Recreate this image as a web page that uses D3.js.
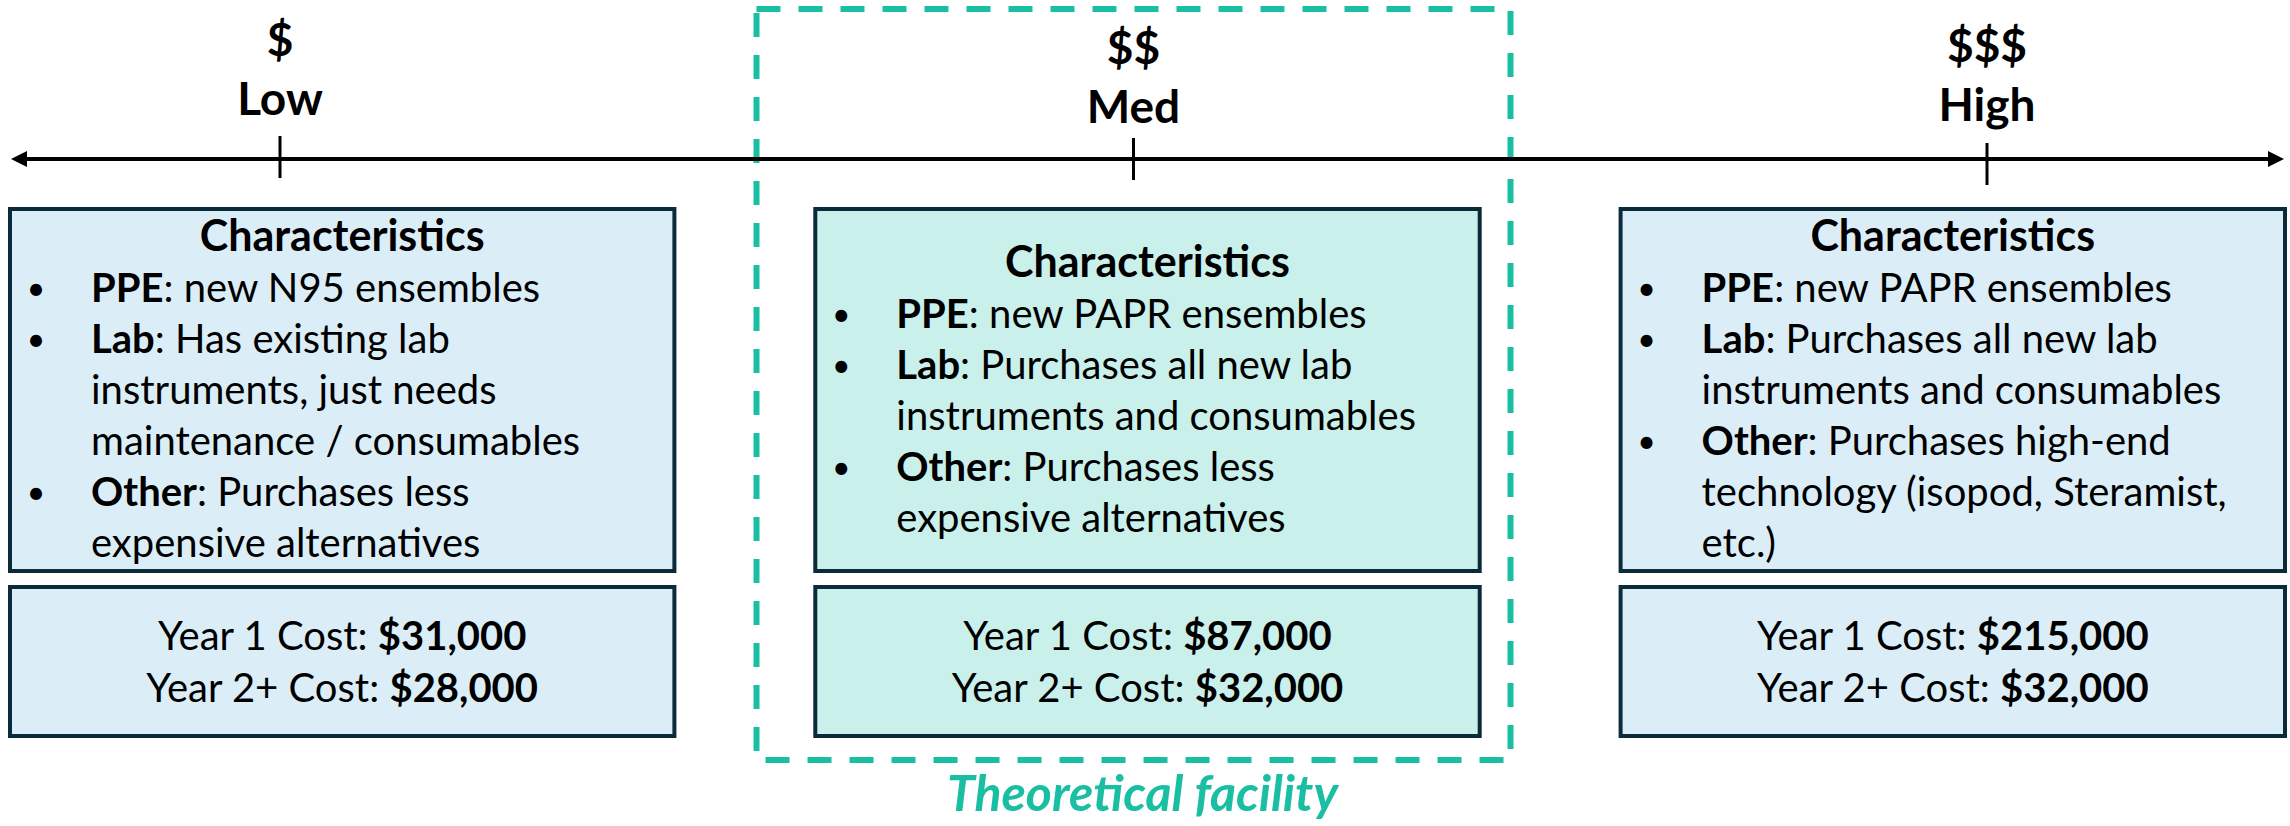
<!DOCTYPE html>
<html>
<head>
<meta charset="utf-8">
<script src="https://cdn.jsdelivr.net/npm/d3@7"></script>
<style>
  html, body { margin: 0; padding: 0; background: #ffffff; }
  svg { display: block; font-family: "Lato", "Noto Sans", sans-serif; }
</style>
</head>
<body>
<div id="chart"></div>
<script>
// ---------------- DATA ----------------
const tiers = ["Low", "Med", "High"];
const tierSymbols = ["$", "$$", "$$$"];
const bulletKeys = ["PPE", "Lab", "Other"];
const ppeText = ["new N95 ensembles", "new PAPR ensembles", "new PAPR ensembles"];
const labText = [
  "Has existing lab\ninstruments, just needs\nmaintenance / consumables",
  "Purchases all new lab\ninstruments and consumables",
  "Purchases all new lab\ninstruments and consumables"
];
const otherText = [
  "Purchases less\nexpensive alternatives",
  "Purchases less\nexpensive alternatives",
  "Purchases high-end\ntechnology (isopod, Steramist,\netc.)"
];
const year1Cost = [31000, 87000, 215000];
const year2Cost = [28000, 32000, 32000];
const highlightTier = "Med";
const highlightLabel = "Theoretical facility";
const headingText = "Characteristics";

// ---------------- LAYOUT / STYLE ----------------
const W = 2290, H = 826;
const FONT = 40;
const LINE_H = 51;
const colors = {
  border: "#0b2a3a",
  fill: "#dbeef8",
  fillHi: "#c9f0eb",
  teal: "#1abfa3",
  ink: "#000000"
};
const labelDy = { Low: -8, Med: 0, High: -2 };
const tickDy = { Low: -2, Med: 0, High: 5 };

const svg = d3.select("#chart").append("svg")
  .attr("width", W).attr("height", H);

const xTick = d3.scalePoint().domain(tiers).range([280, 1987]);
const xBox = d3.scaleBand().domain(tiers).range([8, 2287]).paddingInner(0.17);

const fmt = d3.format("$,");

const rows = tiers.map((t, i) => ({
  tier: t,
  symbol: tierSymbols[i],
  bullets: [
    { key: bulletKeys[0], lines: ppeText[i].split("\n") },
    { key: bulletKeys[1], lines: labText[i].split("\n") },
    { key: bulletKeys[2], lines: otherText[i].split("\n") }
  ],
  y1: year1Cost[i],
  y2: year2Cost[i]
}));

// ---------------- HIGHLIGHT (dashed) BOX ----------------
const hx = xTick(highlightTier);
svg.append("rect")
  .attr("x", hx - 377).attr("y", 9)
  .attr("width", 754).attr("height", 751)
  .attr("fill", "none")
  .attr("stroke", colors.teal)
  .attr("stroke-width", 6)
  .attr("stroke-dasharray", "24 18");

svg.append("text")
  .attr("x", hx + 9).attr("y", 811)
  .attr("text-anchor", "middle")
  .attr("font-size", 50)
  .attr("font-weight", 700)
  .attr("font-style", "italic")
  .attr("fill", colors.teal)
  .text(highlightLabel);

// ---------------- AXIS LINE ----------------
const axisY = 159;
svg.append("line")
  .attr("x1", 22).attr("x2", 2272)
  .attr("y1", axisY).attr("y2", axisY)
  .attr("stroke", colors.ink).attr("stroke-width", 4);
svg.append("path")
  .attr("d", `M11,${axisY} L27,${axisY - 8} L27,${axisY + 8} Z`)
  .attr("fill", colors.ink);
svg.append("path")
  .attr("d", `M2284,${axisY} L2268,${axisY - 8} L2268,${axisY + 8} Z`)
  .attr("fill", colors.ink);

// ticks
svg.selectAll("line.tick").data(rows).join("line")
  .attr("class", "tick")
  .attr("x1", d => xTick(d.tier)).attr("x2", d => xTick(d.tier))
  .attr("y1", d => 138 + tickDy[d.tier]).attr("y2", d => 180 + tickDy[d.tier])
  .attr("stroke", colors.ink).attr("stroke-width", 3);

// tier labels
const lab = svg.selectAll("g.tierlabel").data(rows).join("g")
  .attr("class", "tierlabel")
  .attr("transform", d => `translate(${xTick(d.tier)},${labelDy[d.tier]})`);
lab.append("text")
  .attr("y", 64).attr("text-anchor", "middle")
  .attr("font-size", 46).attr("font-weight", 700)
  .text(d => d.symbol);
lab.append("text")
  .attr("y", 123).attr("text-anchor", "middle")
  .attr("font-size", 46).attr("font-weight", 700)
  .text(d => d.tier);

// ---------------- BOXES ----------------
const topY0 = 209, topY1 = 571;
const botY0 = 587, botY1 = 736;

const g = svg.selectAll("g.tier").data(rows).join("g")
  .attr("class", "tier")
  .attr("transform", d => `translate(${xBox(d.tier)},0)`);

const bw = xBox.bandwidth();

g.append("rect")
  .attr("x", 2).attr("y", topY0)
  .attr("width", bw - 4).attr("height", topY1 - topY0)
  .attr("fill", d => d.tier === highlightTier ? colors.fillHi : colors.fill)
  .attr("stroke", colors.border).attr("stroke-width", 4);

g.append("rect")
  .attr("x", 2).attr("y", botY0)
  .attr("width", bw - 4).attr("height", botY1 - botY0)
  .attr("fill", d => d.tier === highlightTier ? colors.fillHi : colors.fill)
  .attr("stroke", colors.border).attr("stroke-width", 4);

// characteristics text
g.each(function(d) {
  const sel = d3.select(this);
  const nLines = 1 + d3.sum(d.bullets, b => b.lines.length);
  const cy = (topY0 + topY1) / 2;
  let y = cy - (nLines - 1) * LINE_H / 2 + 14;

  sel.append("text")
    .attr("x", bw / 2).attr("y", y)
    .attr("text-anchor", "middle")
    .attr("font-size", 43).attr("font-weight", 700)
    .text(headingText);

  d.bullets.forEach(b => {
    y += LINE_H;
    sel.append("text")
      .attr("x", 28).attr("y", y - 2)
      .attr("text-anchor", "middle")
      .attr("font-size", 32)
      .text("\u2022");
    b.lines.forEach((ln, li) => {
      if (li > 0) y += LINE_H;
      const t = sel.append("text")
        .attr("x", 83).attr("y", y)
        .attr("font-size", FONT);
      if (li === 0) {
        t.append("tspan").attr("font-weight", 700).text(b.key);
        t.append("tspan").text(": " + ln);
      } else {
        t.text(ln);
      }
    });
  });

  // cost text
  const ccy = (botY0 + botY1) / 2;
  const c1 = sel.append("text")
    .attr("x", bw / 2).attr("y", ccy - 26 + 14)
    .attr("text-anchor", "middle").attr("font-size", FONT);
  c1.append("tspan").text("Year 1 Cost: ");
  c1.append("tspan").attr("font-weight", 700).text(fmt(d.y1));
  const c2 = sel.append("text")
    .attr("x", bw / 2).attr("y", ccy + 26 + 14)
    .attr("text-anchor", "middle").attr("font-size", FONT);
  c2.append("tspan").text("Year 2+ Cost: ");
  c2.append("tspan").attr("font-weight", 700).text(fmt(d.y2));
});
</script>
</body>
</html>
